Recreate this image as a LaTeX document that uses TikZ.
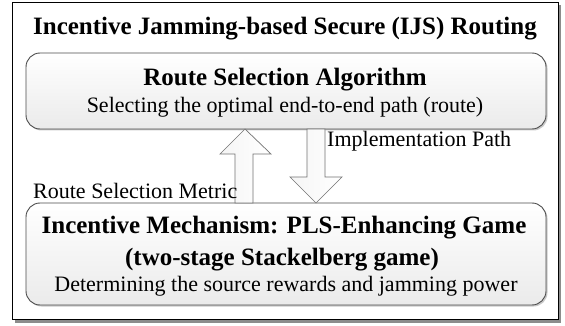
\documentclass[tikz,border=0pt]{standalone}
\usepackage{fontspec}
\setmainfont{Liberation Serif}
\usetikzlibrary{shadows}
\begin{document}
\begin{tikzpicture}[x=1pt,y=1pt,
  boxstyle/.style={draw=black!70, line width=0.9pt, rounded corners=14pt,
    top color=white, bottom color=black!8,
    drop shadow={shadow xshift=1.5pt, shadow yshift=-1.5pt, opacity=0.35, fill=black!60}},
  arrowstyle/.style={draw=black!55, line width=0.7pt, left color=black!4, right color=white},
  bigtxt/.style={font=\fontsize{25}{30}\selectfont\bfseries, anchor=base, inner sep=0pt},
  smalltxt/.style={font=\fontsize{22}{26}\selectfont, anchor=base, inner sep=0pt},
  lbl/.style={font=\fontsize{22}{26}\selectfont, inner sep=0pt, anchor=base west}]
\useasboundingbox (0,0) rectangle (565,-326);
% outer frame with shadow
\fill[black!45] (15,-5) rectangle (561,-323);
\draw[line width=0.8pt, fill=white] (12,-2) rectangle (558,-319);
\node[bigtxt] (title) at (285,-35) {Incentive Jamming-based Secure (IJS) Routing};
% top box
\path[boxstyle] (26,-53) rectangle (546,-129);
\node[bigtxt] (rsa) at (285,-86) {Route Selection Algorithm};
\node[smalltxt] (rsad) at (285,-113) {Selecting the optimal end-to-end path (route)};
% bottom box
\path[boxstyle] (26,-203) rectangle (546,-305);
\node[bigtxt] (im) at (284,-233) {Incentive Mechanism: PLS-Enhancing Game};
\node[bigtxt] (im2) at (282,-265) {(two-stage Stackelberg game)};
\node[smalltxt] (imd) at (286,-291) {Determining the source rewards and jamming power};
% up arrow
\path[arrowstyle] (235,-203) -- (235,-154) -- (220,-154) -- (245,-129) -- (271,-154) -- (253,-154) -- (253,-203) -- cycle;
% down arrow
\path[arrowstyle] (307,-129) -- (325,-129) -- (325,-177) -- (342,-177) -- (316,-203) -- (290,-177) -- (307,-177) -- cycle;
\node[lbl] (impl) at (327,-147) {Implementation Path};
\node[lbl] (rsm) at (33,-198) {Route Selection Metric};
\end{tikzpicture}
\end{document}
